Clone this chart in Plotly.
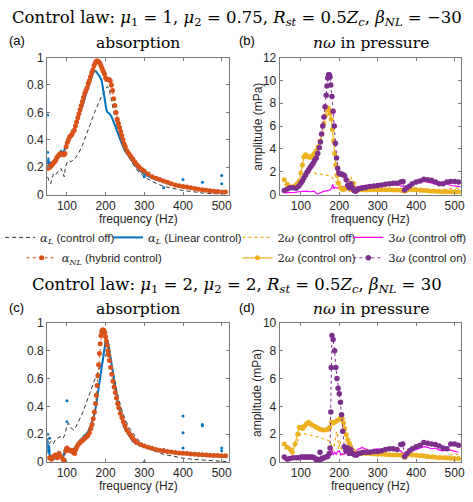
import plotly.graph_objects as go

# ---------------- data ----------------
# Panel (a): absorption, control law 1
a_off_f = [50, 53, 55, 58, 62, 65, 70, 75, 80, 85, 90, 93, 96, 100, 105, 110, 115, 120, 125, 130, 140, 150, 160, 170, 180, 190, 200, 205, 210, 215, 220, 230, 240, 250, 260, 270, 280, 300, 320, 350, 380, 400, 430, 450, 480, 500, 512]
a_off_v = [0.13, 0.1, 0.09, 0.08, 0.13, 0.15, 0.14, 0.16, 0.18, 0.19, 0.16, 0.13, 0.2, 0.23, 0.25, 0.24, 0.25, 0.26, 0.28, 0.3, 0.36, 0.43, 0.51, 0.59, 0.66, 0.72, 0.77, 0.79, 0.76, 0.7, 0.62, 0.49, 0.39, 0.32, 0.27, 0.22, 0.18, 0.13, 0.095, 0.06, 0.04, 0.03, 0.02, 0.012, 0.006, 0.004, 0.003]

a_lin_f = [50, 52, 54, 56, 58, 60, 63, 66, 70, 75, 80, 85, 88, 90, 93, 96, 100, 105, 110, 115, 120, 125, 130, 135, 140, 145, 150, 155, 160, 165, 170, 175, 180, 185, 190, 193, 196, 199, 202, 205, 210, 215, 220, 225, 230, 235, 240, 245, 250, 255, 260, 270, 280, 290, 300, 320, 340, 360, 380, 400, 420, 440, 460, 480, 500, 512]
a_lin_v = [0.22, 0.27, 0.18, 0.24, 0.21, 0.22, 0.23, 0.25, 0.26, 0.28, 0.3, 0.32, 0.31, 0.3, 0.32, 0.36, 0.39, 0.41, 0.43, 0.46, 0.48, 0.52, 0.56, 0.6, 0.64, 0.69, 0.74, 0.79, 0.83, 0.87, 0.9, 0.9, 0.88, 0.86, 0.83, 0.78, 0.72, 0.66, 0.62, 0.6, 0.59, 0.57, 0.54, 0.5, 0.46, 0.42, 0.39, 0.35, 0.32, 0.3, 0.28, 0.24, 0.2, 0.17, 0.15, 0.12, 0.1, 0.08, 0.065, 0.055, 0.048, 0.04, 0.033, 0.028, 0.025, 0.022]
a_lin_out_f = [50, 50, 300, 350, 400, 450, 500, 500]
a_lin_out_v = [0.58, 0.31, 0.13, 0.05, 0.11, 0.09, 0.14, 0.08]

a_nl_f = [50, 53, 56, 59, 62, 65, 68, 71, 74, 77, 80, 83, 86, 89, 92, 95, 98, 101, 104, 107, 110, 113, 116, 119, 122, 125, 128, 131, 134, 137, 140, 143, 146, 149, 152, 155, 158, 161, 164, 167, 170, 173, 176, 179, 182, 185, 188, 191, 194, 197, 200, 203, 206, 209, 212, 215, 218, 221, 224, 227, 230, 233, 236, 239, 242, 245, 248, 251, 255, 260, 265, 270, 275, 280, 285, 290, 295, 300, 310, 320, 330, 340, 350, 360, 370, 380, 390, 400, 410, 420, 430, 440, 450, 460, 470, 480, 490, 500, 510]
a_nl_v = [0.19, 0.2, 0.2, 0.21, 0.22, 0.23, 0.24, 0.25, 0.27, 0.28, 0.29, 0.3, 0.3, 0.29, 0.29, 0.3, 0.35, 0.38, 0.4, 0.42, 0.43, 0.44, 0.46, 0.47, 0.5, 0.53, 0.56, 0.59, 0.62, 0.65, 0.68, 0.71, 0.74, 0.76, 0.78, 0.81, 0.83, 0.86, 0.89, 0.91, 0.94, 0.96, 0.975, 0.975, 0.97, 0.96, 0.94, 0.92, 0.9, 0.88, 0.85, 0.84, 0.84, 0.84, 0.83, 0.8, 0.76, 0.7, 0.65, 0.6, 0.55, 0.52, 0.49, 0.46, 0.43, 0.4, 0.37, 0.35, 0.32, 0.3, 0.28, 0.26, 0.24, 0.22, 0.205, 0.19, 0.18, 0.17, 0.15, 0.13, 0.12, 0.11, 0.1, 0.09, 0.08, 0.07, 0.065, 0.06, 0.055, 0.05, 0.045, 0.04, 0.036, 0.032, 0.028, 0.025, 0.022, 0.02, 0.02]

# Panel (b): harmonics in pressure, control law 1 (mPa)
b_2off_f = [57, 65, 75, 85, 90, 95, 100, 105, 110, 115, 120, 130, 140, 150, 160, 170, 175, 180, 185, 190, 195, 200, 205, 210, 215, 220, 225, 230, 235, 240, 250, 260, 280, 300, 320, 340, 360, 370, 380, 400, 420, 440, 460, 480, 500, 515]
b_2off_v = [0.9, 0.8, 0.75, 0.85, 0.95, 1.1, 1.3, 1.6, 1.8, 1.95, 2.0, 1.9, 1.85, 1.8, 1.75, 1.7, 1.65, 1.55, 1.4, 1.2, 0.9, 0.6, 0.4, 0.3, 0.5, 0.7, 1.1, 1.6, 0.9, 0.6, 0.5, 0.5, 0.5, 0.5, 0.5, 0.55, 0.5, 0.35, 0.55, 0.6, 0.5, 0.45, 0.4, 0.45, 0.6, 0.55]

b_3off_f = [57, 65, 75, 85, 95, 105, 115, 125, 135, 140, 145, 150, 155, 160, 165, 170, 175, 180, 183, 186, 190, 195, 200, 205, 210, 220, 230, 240, 250, 260, 270, 280, 290, 300, 310, 320, 330, 340, 350, 360, 370, 380, 390, 400, 410, 420, 430, 440, 450, 460, 470, 480, 490, 500, 515]
b_3off_v = [0.15, 0.15, 0.2, 0.2, 0.25, 0.3, 0.3, 0.25, 0.3, 0.1, 0.02, 0.15, 0.25, 0.3, 0.3, 0.35, 0.4, 0.55, 0.9, 0.5, 0.65, 0.55, 0.7, 0.6, 0.7, 0.55, 0.6, 0.6, 0.7, 0.75, 0.8, 0.85, 0.8, 0.8, 0.9, 0.95, 0.9, 0.85, 0.9, 0.8, 0.65, 0.8, 0.95, 1.0, 1.1, 1.15, 1.1, 1.0, 0.9, 0.85, 0.9, 0.95, 0.8, 0.75, 0.7]

b_2on_f = [57, 65, 74, 80, 87, 92, 96, 100, 104, 108, 112, 116, 120, 125, 130, 135, 140, 145, 150, 155, 160, 164, 167, 170, 173, 176, 179, 182, 185, 188, 191, 194, 198, 203, 208, 212, 216, 220, 225, 229, 233, 237, 242, 250, 260, 270, 280, 290, 300, 310, 320, 330, 340, 350, 360, 366, 370, 375, 380, 390, 400, 410, 420, 430, 440, 450, 460, 470, 480, 490, 500, 510]
b_2on_v = [1.3, 0.9, 0.65, 0.7, 0.85, 1.0, 1.2, 1.9, 2.6, 3.3, 3.5, 3.4, 3.3, 3.25, 3.4, 3.6, 3.85, 4.2, 4.7, 5.3, 6.2, 6.9, 7.4, 7.6, 7.5, 7.1, 6.6, 5.7, 4.7, 3.6, 2.6, 1.7, 1.0, 0.6, 0.45, 0.45, 0.55, 0.65, 0.85, 0.45, 0.5, 1.0, 0.5, 0.4, 0.42, 0.4, 0.42, 0.42, 0.42, 0.42, 0.42, 0.42, 0.4, 0.4, 0.38, 0.35, 0.3, 0.38, 0.45, 0.42, 0.4, 0.38, 0.36, 0.33, 0.3, 0.3, 0.28, 0.25, 0.25, 0.25, 0.25, 0.25]

b_3on_f = [57, 65, 72, 80, 88, 95, 100, 104, 108, 112, 116, 120, 124, 128, 132, 136, 140, 144, 148, 151, 154, 157, 160, 163, 166, 168, 170, 172, 174, 176, 178, 181, 184, 187, 190, 193, 196, 199, 202, 206, 210, 214, 218, 222, 226, 230, 234, 238, 242, 246, 250, 256, 262, 270, 280, 290, 300, 310, 320, 330, 340, 350, 360, 366, 370, 376, 383, 390, 400, 410, 420, 430, 440, 450, 460, 470, 480, 490, 500, 510]
b_3on_v = [0.35, 0.5, 0.6, 0.6, 0.55, 0.75, 1.0, 1.2, 1.45, 1.7, 1.95, 2.15, 2.35, 2.55, 2.75, 3.0, 3.2, 3.6, 4.1, 4.6, 5.3, 6.0, 6.8, 7.7, 8.7, 9.5, 10.2, 10.5, 10.5, 10.3, 9.6, 8.6, 7.3, 6.0, 4.5, 3.2, 2.3, 1.9, 1.8, 1.8, 1.75, 1.65, 1.3, 0.8, 0.6, 0.95, 0.6, 0.35, 0.3, 0.4, 0.5, 0.55, 0.6, 0.65, 0.7, 0.75, 0.8, 0.85, 0.9, 0.95, 1.0, 1.0, 1.1, 1.15, 0.4, 0.6, 0.75, 0.95, 1.1, 1.2, 1.35, 1.3, 1.25, 1.1, 0.95, 0.95, 1.1, 1.15, 1.15, 1.1]

# Panel (c): absorption, control law 2
c_off_f = [50, 53, 56, 60, 65, 70, 75, 80, 85, 90, 95, 100, 104, 108, 113, 118, 121, 125, 130, 140, 150, 160, 170, 180, 190, 200, 205, 210, 215, 220, 230, 240, 250, 260, 270, 280, 300, 320, 350, 380, 400, 430, 450, 480, 500, 512]
c_off_v = [0.17, 0.1, 0.14, 0.15, 0.13, 0.16, 0.17, 0.18, 0.18, 0.17, 0.2, 0.26, 0.28, 0.25, 0.24, 0.23, 0.24, 0.26, 0.29, 0.35, 0.42, 0.5, 0.58, 0.65, 0.71, 0.77, 0.79, 0.78, 0.72, 0.64, 0.5, 0.39, 0.31, 0.25, 0.21, 0.17, 0.12, 0.085, 0.055, 0.035, 0.027, 0.018, 0.013, 0.007, 0.004, 0.003]

c_lin_f = [50, 52, 54, 56, 58, 60, 63, 66, 70, 74, 78, 82, 86, 90, 93, 96, 100, 105, 110, 115, 120, 125, 130, 135, 140, 145, 150, 155, 160, 165, 170, 175, 180, 185, 190, 195, 200, 203, 206, 210, 215, 220, 225, 230, 235, 240, 245, 250, 260, 270, 280, 290, 300, 320, 340, 360, 380, 400, 420, 440, 460, 480, 500, 512]
c_lin_v = [0.15, 0.06, 0.12, 0.02, 0.05, 0.01, 0.03, 0.02, 0.04, 0.06, 0.07, 0.05, 0.04, 0.03, 0.06, 0.1, 0.1, 0.09, 0.08, 0.09, 0.1, 0.12, 0.14, 0.16, 0.17, 0.19, 0.2, 0.22, 0.25, 0.29, 0.33, 0.4, 0.5, 0.6, 0.7, 0.8, 0.87, 0.88, 0.86, 0.8, 0.71, 0.61, 0.53, 0.45, 0.39, 0.33, 0.28, 0.24, 0.19, 0.15, 0.13, 0.12, 0.11, 0.09, 0.08, 0.075, 0.068, 0.062, 0.058, 0.055, 0.052, 0.05, 0.048, 0.045]
c_lin_out_f = [50, 55, 100, 100, 300, 350, 400, 400, 400, 450, 450, 500, 500]
c_lin_out_v = [0.2, 0.17, 0.44, 0.29, 0.0, 0.09, 0.33, 0.21, 0.1, 0.27, 0.26, 0.1, 0.08]

c_nl_f = [55, 60, 65, 70, 75, 80, 85, 90, 93, 97, 100, 104, 108, 112, 116, 120, 123, 126, 130, 134, 138, 142, 146, 150, 154, 158, 162, 165, 168, 171, 174, 176, 178, 180, 182, 184, 186, 188, 190, 192, 194, 196, 198, 200, 202, 204, 206, 208, 210, 213, 216, 219, 222, 225, 228, 231, 234, 238, 242, 246, 250, 255, 260, 265, 270, 275, 280, 290, 300, 310, 320, 330, 340, 350, 360, 370, 380, 390, 400, 410, 420, 430, 440, 450, 460, 470, 480, 490, 500, 510]
c_nl_v = [0.03, 0.02, 0.04, 0.05, 0.03, 0.06, 0.04, 0.02, 0.01, 0.08, 0.1, 0.09, 0.08, 0.085, 0.07, 0.06, 0.09, 0.11, 0.13, 0.14, 0.15, 0.16, 0.17, 0.18, 0.19, 0.21, 0.24, 0.27, 0.31, 0.36, 0.42, 0.48, 0.55, 0.62, 0.7, 0.78, 0.85, 0.91, 0.94, 0.95, 0.95, 0.945, 0.93, 0.9, 0.87, 0.84, 0.8, 0.77, 0.73, 0.68, 0.63, 0.58, 0.54, 0.5, 0.46, 0.42, 0.39, 0.35, 0.32, 0.29, 0.26, 0.23, 0.21, 0.19, 0.17, 0.155, 0.14, 0.125, 0.115, 0.105, 0.098, 0.09, 0.085, 0.08, 0.076, 0.072, 0.068, 0.065, 0.062, 0.06, 0.058, 0.056, 0.054, 0.052, 0.05, 0.048, 0.047, 0.046, 0.045, 0.044]

# Panel (d): harmonics in pressure, control law 2 (mPa)
d_2off_f = [57, 65, 75, 85, 90, 95, 100, 105, 110, 120, 130, 140, 150, 160, 170, 175, 178, 182, 186, 190, 193, 196, 199, 202, 205, 208, 212, 216, 220, 230, 240, 250, 260, 280, 300, 320, 340, 360, 370, 380, 400, 420, 440, 460, 480, 490, 500, 510]
d_2off_v = [1.0, 0.9, 0.85, 1.1, 1.4, 1.8, 2.05, 2.05, 2.0, 1.95, 1.9, 1.85, 1.75, 1.65, 1.55, 1.5, 1.4, 0.8, 1.0, 1.8, 2.2, 1.8, 0.9, 1.5, 1.0, 0.5, 0.6, 0.7, 0.9, 0.9, 0.8, 0.7, 0.7, 0.6, 0.55, 0.55, 0.5, 0.5, 0.4, 0.55, 0.6, 0.55, 0.5, 0.45, 0.4, 0.5, 0.6, 0.5]

d_3off_f = [57, 70, 85, 100, 115, 130, 140, 150, 160, 170, 175, 180, 184, 188, 192, 196, 200, 204, 208, 212, 220, 230, 240, 250, 260, 270, 280, 290, 300, 310, 320, 330, 340, 350, 360, 370, 380, 390, 400, 410, 420, 430, 440, 450, 460, 470, 480, 490, 500, 510]
d_3off_v = [0.15, 0.2, 0.2, 0.25, 0.2, 0.2, 0.15, 0.15, 0.2, 0.3, 0.5, 0.9, 0.5, 0.7, 0.55, 0.75, 0.8, 0.5, 0.6, 0.55, 0.7, 0.65, 0.8, 0.9, 1.05, 0.9, 0.8, 0.9, 0.95, 0.85, 0.9, 0.95, 0.9, 0.85, 0.8, 0.5, 0.7, 0.8, 0.9, 1.0, 1.1, 1.05, 0.95, 1.0, 0.85, 0.8, 0.9, 0.85, 0.75, 0.7]

d_2on_f = [57, 65, 73, 78, 85, 92, 96, 100, 105, 110, 115, 120, 125, 130, 137, 144, 150, 157, 164, 170, 175, 180, 185, 190, 195, 200, 204, 208, 211, 214, 218, 222, 226, 230, 236, 244, 250, 260, 270, 280, 290, 300, 310, 320, 330, 340, 350, 360, 366, 370, 375, 380, 390, 400, 410, 420, 430, 440, 450, 460, 470, 480, 490, 500, 510]
d_2on_v = [1.3, 1.05, 0.9, 0.7, 1.3, 2.0, 2.5, 2.5, 2.4, 2.6, 2.75, 2.85, 2.75, 2.65, 2.55, 2.45, 2.35, 2.3, 2.3, 2.35, 2.5, 2.85, 2.8, 2.9, 3.0, 3.05, 3.2, 3.1, 2.8, 2.4, 1.95, 1.6, 1.35, 1.1, 0.8, 0.65, 0.6, 0.6, 0.6, 0.6, 0.58, 0.55, 0.55, 0.53, 0.52, 0.5, 0.5, 0.5, 0.45, 0.32, 0.45, 0.55, 0.5, 0.48, 0.45, 0.42, 0.38, 0.35, 0.33, 0.3, 0.3, 0.28, 0.26, 0.25, 0.25]

d_3on_f = [57, 65, 72, 80, 88, 95, 100, 105, 110, 115, 120, 125, 130, 135, 140, 145, 148, 150, 153, 156, 160, 165, 170, 174, 176, 178, 179, 181, 184, 188, 191, 194, 197, 200, 203, 206, 209, 213, 217, 222, 226, 230, 235, 240, 245, 250, 256, 262, 270, 280, 290, 300, 310, 320, 330, 340, 350, 360, 365, 370, 376, 383, 390, 400, 410, 420, 430, 440, 450, 460, 470, 480, 490, 500, 510]
d_3on_v = [0.35, 0.2, 0.25, 0.3, 0.3, 0.3, 0.35, 0.35, 0.35, 0.35, 0.35, 0.35, 0.35, 0.3, 0.15, 0.2, 0.15, 0.7, 0.2, 0.25, 0.3, 0.35, 0.4, 0.6, 1.0, 3.6, 6.8, 9.1, 8.8, 8.0, 6.8, 6.0, 5.3, 4.9, 4.3, 3.4, 2.2, 1.1, 0.8, 1.0, 0.6, 0.9, 0.6, 0.5, 0.5, 0.6, 0.65, 0.7, 0.7, 0.7, 0.75, 0.75, 0.8, 0.9, 0.95, 0.95, 0.9, 1.25, 1.3, 0.4, 0.6, 0.8, 0.95, 1.1, 1.2, 1.4, 1.35, 1.3, 1.25, 1.15, 1.0, 0.95, 1.3, 1.3, 1.2]

x_ticks = [100, 200, 300, 400, 500]
abs_ticks = [0, 0.2, 0.4, 0.6, 0.8, 1]
abs_ticklabels = ["0", "0.2", "0.4", "0.6", "0.8", "1"]
b_ticks = [0, 2, 4, 6, 8, 10, 12]
d_ticks = [0, 2, 4, 6, 8, 10]

title1 = ("Control law: <i>μ</i><sub>1</sub> = 1, <i>μ</i><sub>2</sub> = 0.75, "
          "<i>R</i><sub><i>st</i></sub> = 0.5<i>Z</i><sub><i>c</i></sub>, <i>β</i><sub><i>NL</i></sub> = −30")
title2 = ("Control law: <i>μ</i><sub>1</sub> = 2, <i>μ</i><sub>2</sub> = 2, "
          "<i>R</i><sub><i>st</i></sub> = 0.5<i>Z</i><sub><i>c</i></sub>, <i>β</i><sub><i>NL</i></sub> = 30")

# ---------------- styling ----------------
W, H = 473, 502
SERIF = "DejaVu Serif"
SANS = "Liberation Sans"
TXT = "#262626"
C_BLUE = "#0072BD"
C_ORANGE = "#D95319"
C_YELLOW = "#EDB120"
C_PURPLE = "#7E2F8E"
C_MAG = "#FF00FF"
C_BLACK = "#333333"


def fx(p):
    return p / W


def fy(p):
    return 1 - p / H


def mspan(s):
    return f"<span style='font-family:{SERIF}'>{s}</span>"


fig = go.Figure()

names = {
    "off": mspan("<i>α</i><sub><i>L</i></sub>") + " (control off)",
    "lin": mspan("<i>α</i><sub><i>L</i></sub>") + " (Linear control)",
    "nl": mspan("<i>α</i><sub><i>NL</i></sub>") + " (hybrid control)",
    "2off": mspan("2<i>ω</i>") + " (control off)",
    "3off": mspan("3<i>ω</i>") + " (control off)",
    "2on": mspan("2<i>ω</i>") + " (control on)",
    "3on": mspan("3<i>ω</i>") + " (control on)",
}
legend_of = {"off": "legend", "lin": "legend2", "2off": "legend3", "3off": "legend4",
             "nl": "legend5", "2on": "legend6", "3on": "legend7"}


def add_abs(xa, ya, off_f, off_v, lin_f, lin_v, out_f, out_v, nl_f, nl_v, show):
    fig.add_trace(go.Scatter(x=off_f, y=off_v, mode="lines", xaxis=xa, yaxis=ya,
                             line=dict(color=C_BLACK, width=1, dash="4px,3px"),
                             name=names["off"], legend=legend_of["off"], showlegend=show))
    fig.add_trace(go.Scatter(x=lin_f, y=lin_v, mode="lines", xaxis=xa, yaxis=ya,
                             line=dict(color=C_BLUE, width=2),
                             name=names["lin"], legend=legend_of["lin"], showlegend=show))
    fig.add_trace(go.Scatter(x=out_f, y=out_v, mode="markers", xaxis=xa, yaxis=ya,
                             marker=dict(color=C_BLUE, size=3), showlegend=False))
    fig.add_trace(go.Scatter(x=nl_f, y=nl_v, mode="lines+markers", xaxis=xa, yaxis=ya,
                             line=dict(color=C_ORANGE, width=1, dash="dot"),
                             marker=dict(color=C_ORANGE, size=5),
                             name=names["nl"], legend=legend_of["nl"], showlegend=show))


def add_harm(xa, ya, f2off, v2off, f3off, v3off, f2on, v2on, f3on, v3on, show):
    fig.add_trace(go.Scatter(x=f2off, y=v2off, mode="lines", xaxis=xa, yaxis=ya,
                             line=dict(color=C_YELLOW, width=1.3, dash="dot"),
                             name=names["2off"], legend=legend_of["2off"], showlegend=show))
    fig.add_trace(go.Scatter(x=f3off, y=v3off, mode="lines", xaxis=xa, yaxis=ya,
                             line=dict(color=C_MAG, width=1.2),
                             name=names["3off"], legend=legend_of["3off"], showlegend=show))
    fig.add_trace(go.Scatter(x=f2on, y=v2on, mode="lines+markers", xaxis=xa, yaxis=ya,
                             line=dict(color=C_YELLOW, width=1.2),
                             marker=dict(color=C_YELLOW, size=5),
                             name=names["2on"], legend=legend_of["2on"], showlegend=show))
    fig.add_trace(go.Scatter(x=f3on, y=v3on, mode="lines+markers", xaxis=xa, yaxis=ya,
                             line=dict(color=C_PURPLE, width=1, dash="dot"),
                             marker=dict(color=C_PURPLE, size=5.5),
                             name=names["3on"], legend=legend_of["3on"], showlegend=show))


add_abs("x", "y", a_off_f, a_off_v, a_lin_f, a_lin_v, a_lin_out_f, a_lin_out_v, a_nl_f, a_nl_v, True)
add_harm("x2", "y2", b_2off_f, b_2off_v, b_3off_f, b_3off_v, b_2on_f, b_2on_v, b_3on_f, b_3on_v, True)
add_abs("x3", "y3", c_off_f, c_off_v, c_lin_f, c_lin_v, c_lin_out_f, c_lin_out_v, c_nl_f, c_nl_v, False)
add_harm("x4", "y4", d_2off_f, d_2off_v, d_3off_f, d_3off_v, d_2on_f, d_2on_v, d_3on_f, d_3on_v, False)

axis_common = dict(showline=True, linecolor="#7a7a7a", linewidth=1, mirror="ticks",
                   ticks="inside", ticklen=3, tickcolor="#7a7a7a", showgrid=False,
                   zeroline=False, tickfont=dict(family=SANS, size=12, color=TXT))

left_dom = [fx(43), fx(228)]
right_dom = [fx(280), fx(465)]
top_dom = [fy(193), fy(52)]
bot_dom = [fy(468), fy(325)]

layout = dict(
    width=W, height=H, margin=dict(l=0, r=0, t=0, b=0),
    paper_bgcolor="white", plot_bgcolor="white",
    xaxis=dict(axis_common, domain=left_dom, anchor="y", range=[49, 518], tickvals=x_ticks),
    yaxis=dict(axis_common, domain=top_dom, anchor="x", range=[0, 1], tickvals=abs_ticks, ticktext=abs_ticklabels),
    xaxis2=dict(axis_common, domain=right_dom, anchor="y2", range=[45, 517], tickvals=x_ticks),
    yaxis2=dict(axis_common, domain=top_dom, anchor="x2", range=[0, 12], tickvals=b_ticks),
    xaxis3=dict(axis_common, domain=left_dom, anchor="y3", range=[49, 518], tickvals=x_ticks),
    yaxis3=dict(axis_common, domain=bot_dom, anchor="x3", range=[0, 1], tickvals=abs_ticks, ticktext=abs_ticklabels),
    xaxis4=dict(axis_common, domain=right_dom, anchor="y4", range=[45, 517], tickvals=x_ticks),
    yaxis4=dict(axis_common, domain=bot_dom, anchor="x4", range=[0, 10], tickvals=d_ticks),
)

leg_font = dict(family=SANS, size=11.5, color=TXT)
leg_pos = {"legend": (-5, 237), "legend2": (105, 237), "legend3": (237, 237), "legend4": (350, 237),
           "legend5": (17, 258), "legend6": (237, 258), "legend7": (350, 258)}
for key, (lx, ly) in leg_pos.items():
    layout[key] = dict(x=fx(lx), y=fy(ly), xanchor="left", yanchor="middle", orientation="h",
                       bgcolor="rgba(0,0,0,0)", borderwidth=0, font=leg_font, itemwidth=30)

fig.update_layout(**layout)

ann = []
ann.append(dict(text=title1, x=fx(236), y=fy(12), font=dict(family=SERIF, size=16.5, color="black")))
ann.append(dict(text=title2, x=fx(236), y=fy(287), font=dict(family=SERIF, size=16.5, color="black")))
for txt, px, py in [("absorption", 136, 37), ("<i>nω</i> in pressure", 373, 37),
                    ("absorption", 136, 311), ("<i>nω</i> in pressure", 373, 311)]:
    ann.append(dict(text=txt, x=fx(px), y=fy(py), font=dict(family=SERIF, size=15.5, color="black")))
for txt, px, py in [("(a)", 12, 34), ("(b)", 247, 34), ("(c)", 12, 309), ("(d)", 247, 309)]:
    ann.append(dict(text=txt, x=fx(px), y=fy(py), font=dict(family=SANS, size=13, color="black")))
for px, py in [(136, 218), (373, 218), (136, 493), (373, 493)]:
    ann.append(dict(text="frequency (Hz)", x=fx(px), y=fy(py), font=dict(family=SANS, size=12, color=TXT)))
for py in [123, 397]:
    ann.append(dict(text="amplitude (mPa)", x=fx(257), y=fy(py), textangle=-90,
                    font=dict(family=SANS, size=12, color=TXT)))
for a in ann:
    a.update(xref="paper", yref="paper", showarrow=False, xanchor="center", yanchor="middle")
fig.update_layout(annotations=ann)

fig.write_html("out.html")
